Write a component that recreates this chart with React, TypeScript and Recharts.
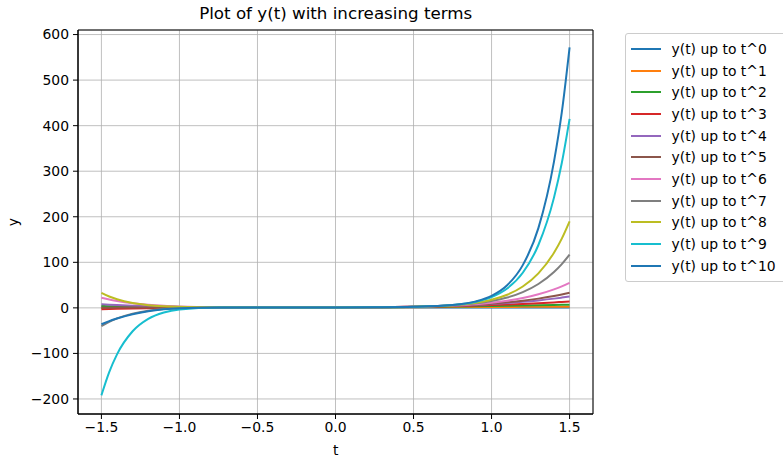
import React from "react"
import {
  LineChart,
  Line,
  XAxis,
  YAxis,
  CartesianGrid,
  ReferenceArea,
} from "recharts"

// sample points along t
const T = [
  -1.5, -1.45, -1.4, -1.3, -1.2, -1.1, -1.0, -0.75, -0.5, -0.25, 0, 0.25, 0.5, 0.75,
  0.9, 1.0, 1.1, 1.2, 1.3, 1.4, 1.45, 1.5,
]

// partial sums, one array per highest power kept
const S0 = [1, 1, 1, 1, 1, 1, 1, 1, 1, 1, 1, 1, 1, 1, 1, 1, 1, 1, 1, 1, 1, 1]
const S1 = [-0.5, -0.45, -0.4, -0.3, -0.2, -0.1, 0, 0.25, 0.5, 0.75, 1, 1.25, 1.5, 1.75, 1.9, 2, 2.1, 2.2, 2.3, 2.4, 2.45, 2.5]
const S2 = [4.0, 3.76, 3.52, 3.08, 2.68, 2.32, 2.0, 1.38, 1.0, 0.88, 1, 1.38, 2.0, 2.88, 3.52, 4.0, 4.52, 5.08, 5.68, 6.32, 6.66, 7.0]
const S3 = [-3.0, -2.56, -2.16, -1.47, -0.9, -0.44, -0.07, 0.5, 0.74, 0.84, 1, 1.41, 2.26, 3.75, 5.03, 6.07, 7.28, 8.66, 10.2, 12.0, 13.0, 14.0]
const S4 = [8.0, 7.04, 6.18, 4.73, 3.6, 2.74, 2.1, 1.19, 0.88, 0.85, 1, 1.42, 2.39, 4.44, 6.45, 8.24, 10.5, 13.2, 16.4, 20.3, 22.6, 25.0]
const S5 = [0.0, 0.31, 0.53, 0.83, 0.99, 1.05, 1.05, 0.94, 0.85, 0.85, 1, 1.42, 2.43, 4.69, 7.07, 9.29, 12.2, 15.8, 20.3, 26.0, 29.3, 33.0]
const S6 = [22.0, 18.2, 15.1, 10.2, 6.75, 4.47, 2.98, 1.28, 0.88, 0.85, 1, 1.42, 2.46, 5.03, 8.1, 11.2, 15.6, 21.5, 29.7, 40.5, 47.2, 55.0]
const S7 = [-40.0, -30.7, -23.2, -12.6, -6.25, -2.6, -0.65, 0.8, 0.85, 0.85, 1, 1.42, 2.49, 5.52, 9.84, 14.9, 22.6, 34.5, 52.4, 78.8, 96.2, 117]
const S8 = [33.0, 25.0, 18.9, 10.6, 6.0, 3.51, 2.2, 1.08, 0.86, 0.85, 1, 1.42, 2.5, 5.8, 11.1, 17.7, 28.7, 46.8, 75.7, 121, 152, 190]
const S9 = [-192, -141, -102, -51.4, -24.2, -10.3, -3.65, 0.64, 0.85, 0.85, 1, 1.42, 2.51, 6.24, 13.3, 23.6, 42.5, 77.0, 138, 242, 318, 415]
const S10 = [-36, -29.0, -23.4, -13.9, -7.34, -3.23, -0.93, 0.8, 0.85, 0.85, 1, 1.42, 2.51, 6.39, 14.3, 26.3, 49.6, 93.8, 175, 321, 429, 572]

const SERIES = [S0, S1, S2, S3, S4, S5, S6, S7, S8, S9, S10]
const NAMES = SERIES.map((_, k) => `y(t) up to t^${k}`)
const COLORS = [
  "#1f77b4", "#ff7f0e", "#2ca02c", "#d62728", "#9467bd", "#8c564b",
  "#e377c2", "#7f7f7f", "#bcbd22", "#17becf", "#1f77b4",
]

const X_TICKS = [-1.5, -1.0, -0.5, 0, 0.5, 1.0, 1.5]
const Y_TICKS = [-200, -100, 0, 100, 200, 300, 400, 500, 600]

const rows = T.map((t, i) => {
  const row: Record<string, number> = { t }
  SERIES.forEach((s, k) => {
    row[`s${k}`] = s[i]
  })
  return row
})

const minus = (s: string) => s.replace("-", "\u2212")
const FONT = "DejaVu Sans, sans-serif"
const tickStyle = { fill: "#000", fontSize: 13.9 }

function LegendBox() {
  return (
    <div
      style={{
        position: "absolute",
        left: 625,
        top: 33,
        width: 170,
        padding: "4px 0",
        border: "1px solid #cccccc",
        borderRadius: 3,
        background: "rgba(255,255,255,0.8)",
        fontSize: 13.9,
        fontFamily: FONT,
        color: "#000",
      }}
    >
      {NAMES.map((n, k) => (
        <div key={k} style={{ display: "flex", alignItems: "center", height: 21.7 }}>
          <div style={{ marginLeft: 5, width: 30, height: 2, background: COLORS[k] }} />
          <div style={{ marginLeft: 10.5, whiteSpace: "nowrap" }}>{n}</div>
        </div>
      ))}
    </div>
  )
}

export default function App() {
  return (
    <div
      style={{
        position: "absolute",
        left: 0,
        top: 0,
        width: 783,
        height: 458,
        overflow: "hidden",
        background: "#fff",
        fontFamily: FONT,
      }}
    >
      <LineChart
        width={783}
        height={458}
        data={rows}
        margin={{ top: 30, right: 190, left: 0, bottom: 0 }}
      >
        <CartesianGrid stroke="#b0b0b0" strokeWidth={0.8} />
        <XAxis
          dataKey="t"
          type="number"
          domain={[-1.65, 1.65]}
          ticks={X_TICKS}
          allowDataOverflow
          height={44}
          tickSize={5}
          tickMargin={3}
          stroke="#000"
          tick={tickStyle}
          tickFormatter={(v: number) => minus(v.toFixed(1))}
        />
        <YAxis
          type="number"
          domain={[-233, 610]}
          ticks={Y_TICKS}
          allowDataOverflow
          width={78}
          tickSize={5}
          tickMargin={4}
          stroke="#000"
          tick={tickStyle}
          tickFormatter={(v: number) => minus(String(v))}
        />
        {SERIES.map((_, k) => (
          <Line
            key={k}
            dataKey={`s${k}`}
            name={NAMES[k]}
            type="monotone"
            stroke={COLORS[k]}
            strokeWidth={2}
            dot={false}
            isAnimationActive={false}
          />
        ))}
        <ReferenceArea
          x1={-1.65}
          x2={1.65}
          y1={-233}
          y2={610}
          fill="none"
          stroke="#000"
          strokeWidth={1}
          fillOpacity={0}
          ifOverflow="visible"
        />
        <text x={335.7} y={19} textAnchor="middle" fontSize={16.7} fill="#000">
          Plot of y(t) with increasing terms
        </text>
        <text x={335.7} y={455} textAnchor="middle" fontSize={13.9} fill="#000">
          t
        </text>
        <text
          x={18}
          y={222}
          textAnchor="middle"
          fontSize={13.9}
          fill="#000"
          transform="rotate(-90, 18, 222)"
        >
          y
        </text>
      </LineChart>
      <LegendBox />
    </div>
  )
}
